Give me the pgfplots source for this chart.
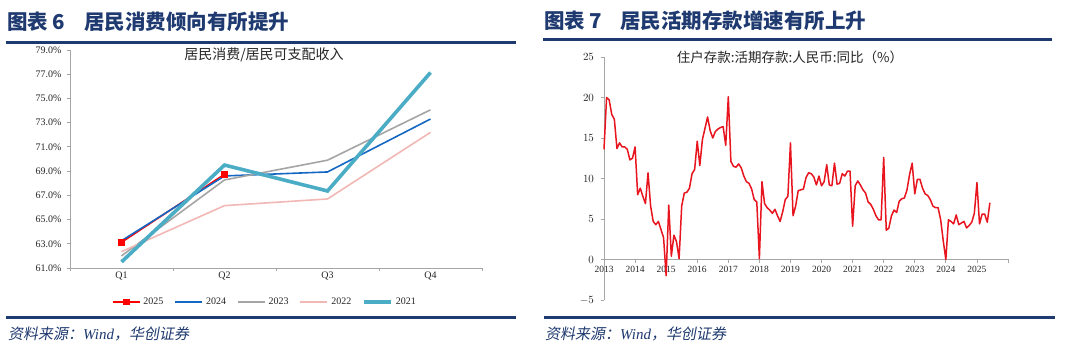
\documentclass[border=0pt]{standalone}
\usepackage{pgfplots}
\pgfplotsset{compat=1.18}
\usepackage{fontspec}
\setmainfont{Liberation Serif}
\newfontfamily\cjk{Noto Sans CJK SC}
\newfontfamily\cjkit[FakeSlant=0.18]{Noto Sans CJK SC}
\definecolor{navy}{HTML}{1F3A70}
\definecolor{axgray}{HTML}{A6A6A6}
\definecolor{txt}{HTML}{262626}
\definecolor{c25}{HTML}{FF0000}
\definecolor{c24}{HTML}{1468C4}
\definecolor{c23}{HTML}{A5A5A5}
\definecolor{c22}{HTML}{F2B8B5}
\definecolor{c21}{HTML}{4BACC6}
\definecolor{redline}{HTML}{E8141E}
\begin{document}
\begin{tikzpicture}[x=1pt,y=1pt]
\fill[white] (0,0) rectangle (1080,352);
% ---------- headers ----------
\node[anchor=west, text=navy, font=\cjk\bfseries\fontsize{20.5}{22}\selectfont, inner sep=0] at (7,330) {图表 6};
\node[anchor=west, text=navy, font=\cjk\bfseries\fontsize{20.5}{22}\selectfont, inner sep=0] at (84,330) {居民消费倾向有所提升};
\node[anchor=west, text=navy, font=\cjk\bfseries\fontsize{20.5}{22}\selectfont, inner sep=0] at (544,331) {图表 7};
\node[anchor=west, text=navy, font=\cjk\bfseries\fontsize{20.5}{22}\selectfont, inner sep=0] at (620,331) {居民活期存款增速有所上升};
\draw[navy, line width=3pt] (6,309) -- (516,309);
\draw[navy, line width=3pt] (543,312) -- (1052,312);
% ---------- footers ----------
\draw[navy, line width=3pt] (6,34) -- (516,34);
\draw[navy, line width=3pt] (544,34) -- (1055,34);
\node[anchor=west, text=navy, inner sep=0, font=\fontsize{15}{17}\selectfont] at (8,18) {{\cjkit 资料来源：}{\itshape Wind}{\cjkit ，华创证券}};
\node[anchor=west, text=navy, inner sep=0, font=\fontsize{15}{17}\selectfont] at (545,18) {{\cjkit 资料来源：}{\itshape Wind}{\cjkit ，华创证券}};
% ---------- left chart ----------
\begin{axis}[
  at={(70pt,84pt)}, anchor=south west,
  width=412pt, height=218pt, scale only axis,
  xmin=-0.5, xmax=3.5, ymin=61, ymax=79,
  axis x line*=bottom, axis y line*=left,
  axis line style={draw=axgray, line width=0.8pt},
  tick style={draw=axgray, line width=0.8pt},
  tick align=outside, major tick length=3pt,
  ytick={61,63,...,79},
  yticklabels={61.0\%,63.0\%,65.0\%,67.0\%,69.0\%,71.0\%,73.0\%,75.0\%,77.0\%,79.0\%},
  xtick={-0.5,0.5,1.5,2.5,3.5}, xticklabels={},
  extra x ticks={0,1,2,3}, extra x tick labels={Q1,Q2,Q3,Q4},
  extra x tick style={major tick length=0pt},
  ticklabel style={font=\fontsize{10}{12}\selectfont, text=txt},
  yticklabel style={xshift=-2pt},
  legend columns=5,
  legend style={at={(0.473,-0.156)}, anchor=center, draw=none, fill=none,
    font=\fontsize{10}{12}\selectfont, text=txt,
    /tikz/every even column/.append style={column sep=9pt},
    /tikz/every odd column/.append style={column sep=1pt}},
  legend image code/.code={\draw[mark repeat=2,mark phase=2] plot coordinates {(0pt,0pt)(13.5pt,0pt)(27pt,0pt)};},
  clip=false,
]
\addplot[c25, line width=1.6pt, mark=square*, mark size=2.6pt, mark options={solid, fill=c25}] coordinates {(0,63.12)(1,68.74)};
\addlegendentry{2025}
\addplot[c24, line width=1.6pt] coordinates {(0,63.25)(1,68.6)(2,68.93)(3,73.3)};
\addlegendentry{2024}
\addplot[c23, line width=1.6pt] coordinates {(0,62.0)(1,68.27)(2,69.9)(3,74.06)};
\addlegendentry{2023}
\addplot[c22, line width=1.6pt] coordinates {(0,62.35)(1,66.15)(2,66.7)(3,72.2)};
\addlegendentry{2022}
\addplot[c21, line width=3.6pt] coordinates {(0,61.5)(1,69.5)(2,67.36)(3,77.14)};
\addlegendentry{2021}
\end{axis}
\node[font=\cjk\fontsize{14}{16}\selectfont, text=txt] at (264,297) {居民消费/居民可支配收入};
% ---------- right chart ----------
\begin{axis}[
  at={(604pt,52pt)}, anchor=south west,
  width=404pt, height=243pt, scale only axis,
  xmin=0, xmax=156, ymin=-5, ymax=25,
  axis x line*=middle, axis y line*=left,
  hide obscured x ticks=false, hide obscured y ticks=false,
  axis line style={draw=axgray, line width=0.8pt, -},
  tick style={draw=axgray, line width=0.8pt},
  tick align=outside, major tick length=3.5pt,
  ytick={-5,0,...,25},
  xtick={0,12,...,156},
  xticklabels={2013,2014,2015,2016,2017,2018,2019,2020,2021,2022,2023,2024,2025,{}},
  xticklabel style={font=\fontsize{9.5}{11}\selectfont, text=txt},
  yticklabel style={font=\fontsize{10.5}{12}\selectfont, text=txt, xshift=-3pt},
  clip=false,
]
\addplot[redline, line width=1.5pt, line join=round] coordinates {
(0,13.6)(1,20.0)(2,19.7)(3,17.9)(4,17.3)(5,13.7)(6,14.4)(7,13.9)(8,13.9)(9,13.6)(10,12.3)(11,12.5)
(12,13.9)(13,8.0)(14,8.8)(15,7.8)(16,6.9)(17,10.7)(18,6.6)(19,4.7)(20,4.3)(21,4.7)(22,3.7)(23,2.7)
(24,-2.0)(25,6.7)(26,0.4)(27,3.0)(28,2.2)(29,0.1)(30,6.6)(31,8.2)(32,8.3)(33,8.8)(34,10.6)(35,11.1)
(36,14.6)(37,11.6)(38,14.8)(39,16.2)(40,17.6)(41,15.9)(42,15.0)(43,15.8)(44,16.1)(45,16.3)(46,16.4)(47,14.1)
(48,20.1)(49,12.1)(50,11.5)(51,11.4)(52,11.8)(53,11.3)(54,10.3)(55,9.6)(56,9.4)(57,8.7)(58,7.4)(59,7.1)
(60,0.1)(61,9.6)(62,6.9)(63,6.4)(64,6.1)(65,5.7)(66,6.2)(67,5.4)(68,4.7)(69,5.9)(70,7.4)(71,7.8)
(72,14.4)(73,5.4)(74,6.6)(75,8.5)(76,8.6)(77,8.7)(78,10.1)(79,10.7)(80,10.6)(81,10.2)(82,9.2)(83,10.3)
(84,9.1)(85,9.6)(86,11.7)(87,9.2)(88,9.1)(89,11.9)(90,9.3)(91,9.4)(92,10.6)(93,10.3)(94,10.9)(95,10.9)
(96,4.1)(97,9.1)(98,9.7)(99,9.2)(100,8.6)(101,8.2)(102,7.1)(103,6.8)(104,6.2)(105,5.4)(106,4.9)(107,4.9)
(108,12.6)(109,3.6)(110,3.9)(111,5.4)(112,6.1)(113,5.8)(114,7.2)(115,7.5)(116,7.6)(117,8.6)(118,10.5)(119,11.9)
(120,8.1)(121,9.9)(122,9.9)(123,8.8)(124,8.1)(125,7.9)(126,7.4)(127,6.6)(128,6.4)(129,6.4)(130,4.9)(131,2.3)
(132,0.0)(133,4.9)(134,4.7)(135,4.4)(136,5.5)(137,4.3)(138,4.5)(139,4.7)(140,3.9)(141,4.2)(142,4.6)(143,5.7)
(144,9.5)(145,4.4)(146,5.6)(147,5.6)(148,4.6)(149,7.0)
};
\end{axis}
\node[font=\cjk\fontsize{13.5}{15}\selectfont, text=txt] at (790,295) {住户存款:活期存款:人民币:同比（\%）};
\end{tikzpicture}
\end{document}
